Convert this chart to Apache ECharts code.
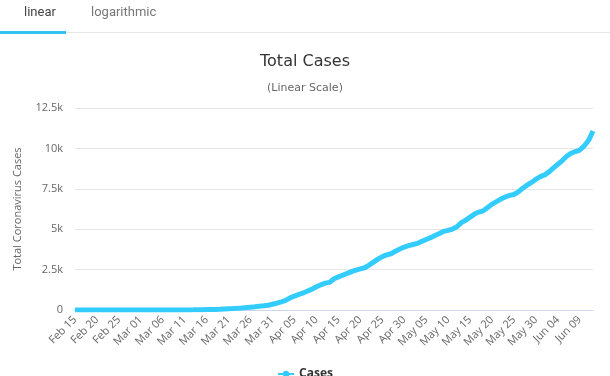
<!DOCTYPE html>
<html>
<head>
<meta charset="utf-8">
<script src="https://cdn.jsdelivr.net/npm/echarts@6/dist/echarts.min.js"></script>
<style>
html,body{margin:0;padding:0;background:#fff;}
#main{width:610px;height:376px;}
</style>
</head>
<body>
<div id="main"></div>
<script>
var dates = ["Feb 15","Feb 16","Feb 17","Feb 18","Feb 19","Feb 20","Feb 21","Feb 22","Feb 23","Feb 24",
  "Feb 25","Feb 26","Feb 27","Feb 28","Feb 29","Mar 01","Mar 02","Mar 03","Mar 04","Mar 05",
  "Mar 06","Mar 07","Mar 08","Mar 09","Mar 10","Mar 11","Mar 12","Mar 13","Mar 14","Mar 15",
  "Mar 16","Mar 17","Mar 18","Mar 19","Mar 20","Mar 21","Mar 22","Mar 23","Mar 24","Mar 25",
  "Mar 26","Mar 27","Mar 28","Mar 29","Mar 30","Mar 31","Apr 01","Apr 02","Apr 03","Apr 04",
  "Apr 05","Apr 06","Apr 07","Apr 08","Apr 09","Apr 10","Apr 11","Apr 12","Apr 13","Apr 14",
  "Apr 15","Apr 16","Apr 17","Apr 18","Apr 19","Apr 20","Apr 21","Apr 22","Apr 23","Apr 24",
  "Apr 25","Apr 26","Apr 27","Apr 28","Apr 29","Apr 30","May 01","May 02","May 03","May 04",
  "May 05","May 06","May 07","May 08","May 09","May 10","May 11","May 12","May 13","May 14",
  "May 15","May 16","May 17","May 18","May 19","May 20","May 21","May 22","May 23","May 24",
  "May 25","May 26","May 27","May 28","May 29","May 30","May 31","Jun 01","Jun 02","Jun 03",
  "Jun 04","Jun 05","Jun 06","Jun 07","Jun 08","Jun 09","Jun 10","Jun 11","Jun 12"];

var cases = [0,0,0,0,0,0,0,0,0,0,
  0,0,0,0,0,0,0,0,0,0,
  0,1,1,3,3,3,6,12,23,23,
  29,30,36,49,66,80,94,109,125,149,
  177,199,231,263,298,353,423,505,591,752,
  864,965,1056,1174,1289,1438,1560,1662,1712,1934,
  2049,2153,2264,2378,2472,2548,2614,2778,2960,3147,
  3304,3408,3481,3638,3771,3897,3980,4052,4121,4248,
  4363,4476,4605,4728,4867,4927,5009,5154,5406,5553,
  5745,5934,6060,6138,6340,6553,6704,6864,6994,7093,
  7147,7305,7537,7725,7896,8098,8251,8360,8548,8795,
  9018,9247,9510,9700,9807,9900,10153,10500,11078];

var yTicks = ["0","2.5k","5k","7.5k","10k","12.5k"];

var chart = echarts.init(document.getElementById('main'));
chart.setOption({
    animation: false,
    textStyle: {fontFamily: 'Open Sans'},
    title: {
        text: 'Total Cases',
        subtext: '(Linear Scale)',
        left: 'center',
        top: 49,
        itemGap: 13,
        textStyle: {fontSize: 16, fontWeight: 'normal', color: '#333', fontFamily: 'DejaVu Sans'},
        subtextStyle: {fontSize: 11, color: '#666', fontFamily: 'DejaVu Sans'}
    },
    graphic: [
        {type: 'text', left: 24, top: 6, style: {text: 'linear', fontSize: 13, fontFamily: 'Roboto', fill: '#444'}},
        {type: 'text', left: 91, top: 6, style: {text: 'logarithmic', fontSize: 13, fontFamily: 'Roboto', fill: '#777'}},
        {type: 'rect', shape: {x: 0, y: 32, width: 610, height: 1}, style: {fill: '#e8e8e8'}},
        {type: 'rect', shape: {x: 0, y: 31, width: 66, height: 3}, style: {fill: '#33c3f0'}}
    ],
    legend: {
        bottom: -9,
        left: 'center',
        itemWidth: 16,
        itemHeight: 8,
        textStyle: {fontSize: 12, fontWeight: 'bold', color: '#333'},
        data: ['Cases']
    },
    grid: {left: 75, right: 17, top: 108, bottom: 66},
    xAxis: {
        type: 'category',
        data: dates,
        boundaryGap: false,
        axisLine: {lineStyle: {color: '#ccd6eb'}},
        axisTick: {show: false},
        axisLabel: {interval: 4, rotate: 45, fontSize: 11, color: '#666', margin: 8}
    },
    yAxis: {
        type: 'value',
        min: 0,
        max: 12500,
        interval: 2500,
        name: 'Total Coronavirus Cases',
        nameLocation: 'middle',
        nameGap: 52,
        nameTextStyle: {fontSize: 11, color: '#666'},
        axisLine: {show: false},
        axisTick: {show: false},
        splitLine: {lineStyle: {color: '#e6e6e6'}},
        axisLabel: {
            fontSize: 11, color: '#666', margin: 12,
            formatter: function (v) { return yTicks[Math.round(v / 2500)]; }
        }
    },
    series: [{
        name: 'Cases',
        type: 'line',
        data: cases,
        showSymbol: false,
        symbol: 'circle',
        smooth: false,
        lineStyle: {width: 5, color: '#33ccff'},
        itemStyle: {color: '#33ccff'}
    }]
});
</script>
</body>
</html>
